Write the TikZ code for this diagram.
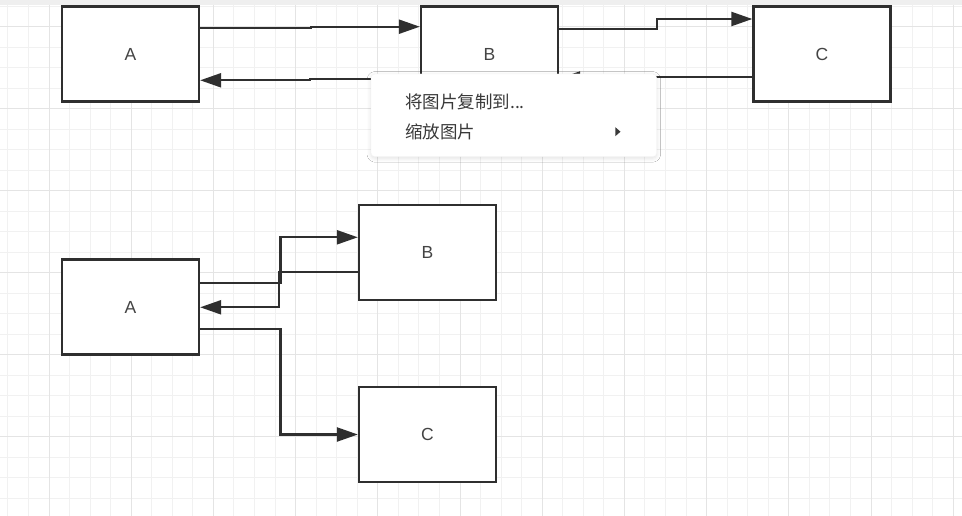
\documentclass[tikz,border=0pt]{standalone}
\usepackage{fontspec}
\setmainfont{Liberation Sans}
\newfontfamily\cjkfont{Noto Sans CJK SC}
\usetikzlibrary{arrows.meta, shadows.blur}
\definecolor{ink}{HTML}{2F2F2F}
\definecolor{menutext}{HTML}{3A3A3A}
\definecolor{gridminor}{HTML}{F1F1F1}
\definecolor{gridmajor}{HTML}{E4E4E4}
\definecolor{topbar}{HTML}{EFEFEF}

\begin{document}
\begin{tikzpicture}[
            x=1pt, y=-1pt,
            box/.style={draw=ink, line width=2.3pt, fill=white, inner sep=0pt,
                        minimum width=137pt, minimum height=95pt,
                        font=\fontsize{17.5}{20}\selectfont, text=ink!90},
            arr/.style={-{Triangle[length=21pt,width=14pt]}, line width=2.3pt, color=ink},
            minor/.style={draw=gridminor, line width=1pt},
            major/.style={draw=gridmajor, line width=1pt},
            menu/.style={draw=black!4, fill=white, rounded corners=4pt,
                         minimum width=285.7pt, minimum height=82.7pt,
                         blur shadow={shadow xshift=0pt, shadow yshift=-1.5pt,
                                      shadow blur radius=4pt, shadow opacity=12}},
            menuitem/.style={anchor=west, inner sep=0pt, text=menutext,
                             font=\cjkfont\fontsize{17.5}{20}\selectfont}
          ]
          \useasboundingbox (0,0) rectangle (962,516);
          \fill[white] (0,0) rectangle (962,516);
          % grid
          \foreach \i in {0,...,46} \draw[minor] ({7.9+20.55*\i},5) -- ({7.9+20.55*\i},516);
          \foreach \j in {0,...,24} \draw[minor] (0,{6.2+20.5*\j}) -- (962,{6.2+20.5*\j});
          \foreach \i in {0,...,11} \draw[major] ({49+82.2*\i},5) -- ({49+82.2*\i},516);
          \foreach \j in {0,...,5} \draw[major] (0,{26.7+82*\j}) -- (962,{26.7+82*\j});
          \fill[topbar] (0,0) rectangle (962,5);

          % first row
          \node[box] (a1) at (130.5,54) {A};
          \node[box] (b1) at (489.5,54) {B};
          \node[box] (c1) at (822,54) {C};
          \draw[arr] ([yshift=25.7pt]a1.east) -- ++(111,0) |- ([yshift=27.3pt]b1.west);
          \draw[arr] ([yshift=-24.7pt]b1.west) -- ++(-110,0) |- ([yshift=-26.3pt]a1.east);
          \draw[arr] ([yshift=24.7pt]b1.east) -- ++(97.5,0) |- ([yshift=35pt]c1.west);
          \draw[arr] ([yshift=-23.3pt]c1.west) -- ++(-100,0) |- ([yshift=-24.5pt]b1.east);

          % second row
          \node[box] (a2) at (130.5,307) {A};
          \node[box] (b2) at (427.5,252.5) {B};
          \node[box] (c2) at (427.5,434.5) {C};
          \draw[arr] ([yshift=23.7pt]a2.east) -- ++(80.3,0) |- ([yshift=15.2pt]b2.west);
          \draw[arr] ([yshift=-19.2pt]b2.west) -- ++(-78.7,0) |- ([yshift=-0.3pt]a2.east);
          \draw[arr] ([yshift=-22pt]a2.east) -- ++(80.3,0) |- (c2.west);

          % context menu
          \node[menu] (menu) at (513.85,115.35) {};
          \node[menuitem] (copyto) at (405,101.7) {将图片复制到...};
          \node[menuitem] (zoom) at (405,131.7) {缩放图片};
          \fill[menutext] (615.3,127.2) -- (620.5,131.7) -- (615.3,136.2) -- cycle;
        \end{tikzpicture}
\end{document}
